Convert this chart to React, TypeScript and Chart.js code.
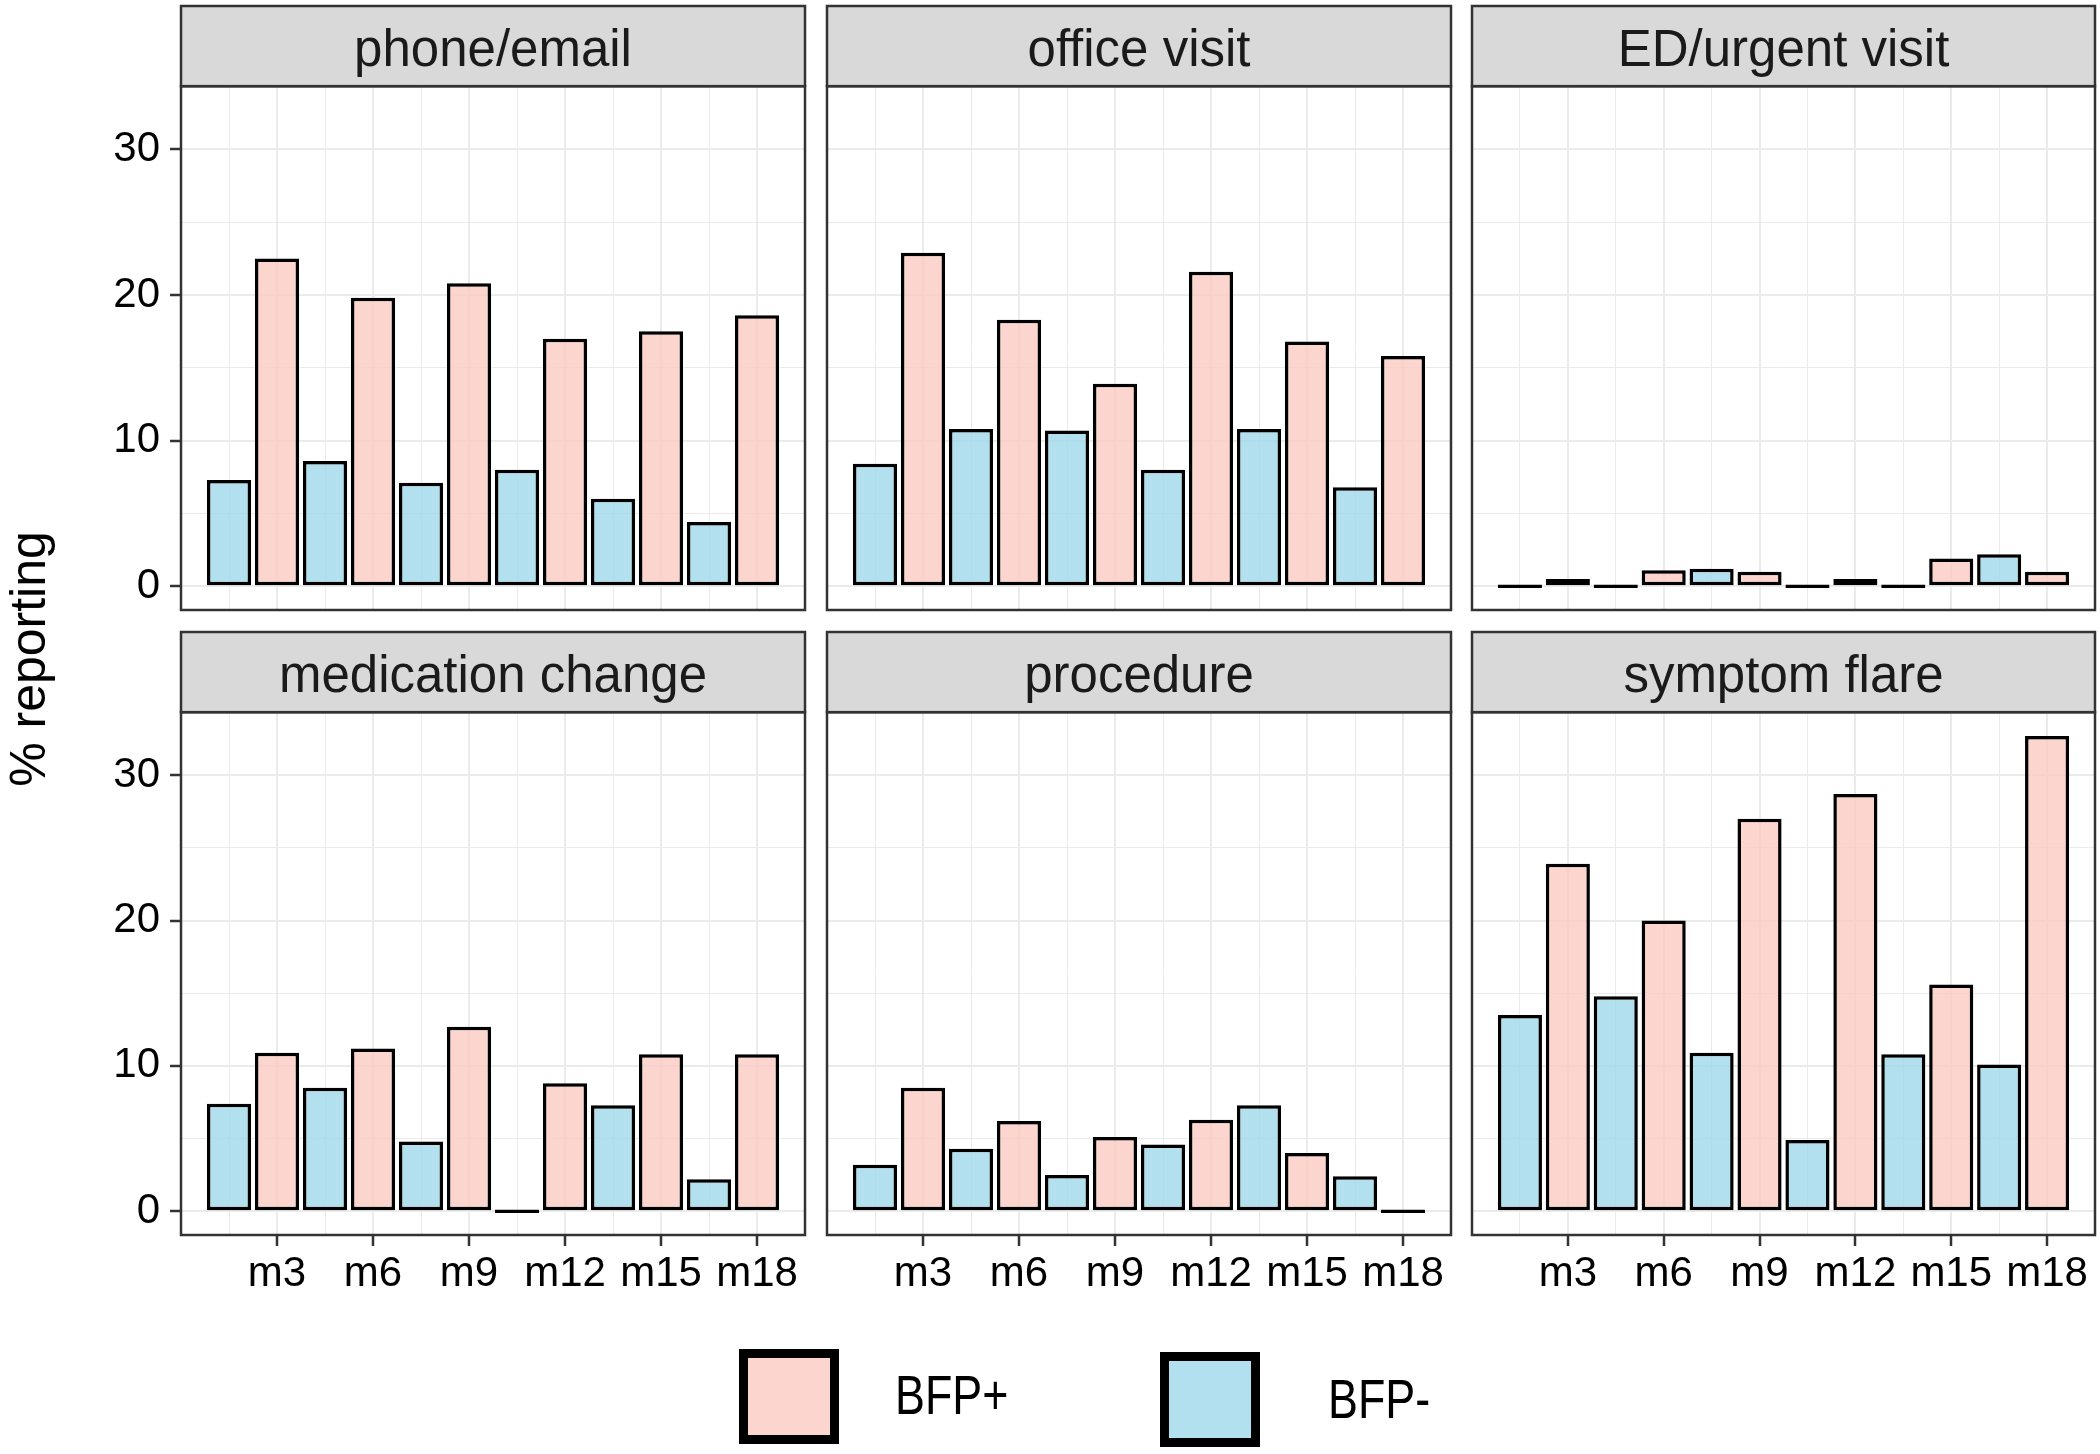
import React, { useEffect, useRef } from "react";
import { Chart, registerables } from "chart.js";

Chart.register(...registerables);

const FONT = "'Liberation Sans', Arial, Helvetica, sans-serif";

// ---------- data ----------
const periods = ["m3", "m6", "m9", "m12", "m15", "m18"];
const seriesNames = ["BFP+", "BFP-"];
const panelTitles = [
  "phone/email",
  "office visit",
  "ED/urgent visit",
  "medication change",
  "procedure",
  "symptom flare",
];

const phoneEmailPlus = [22.5, 19.8, 20.8, 17.0, 17.5, 18.6];
const phoneEmailMinus = [7.3, 8.6, 7.1, 8.0, 6.0, 4.4];

const officeVisitPlus = [22.9, 18.3, 13.9, 21.6, 16.8, 15.8];
const officeVisitMinus = [8.4, 10.8, 10.7, 8.0, 10.8, 6.8];

const edUrgentPlus = [0.5, 1.1, 1.0, 0.5, 1.9, 1.0];
const edUrgentMinus = [0, 0, 1.2, 0, 0, 2.2];

const medicationPlus = [10.9, 11.2, 12.7, 8.8, 10.8, 10.8];
const medicationMinus = [7.4, 8.5, 4.8, 0, 7.3, 2.2];

const procedurePlus = [8.5, 6.2, 5.1, 6.3, 4.0, 0];
const procedureMinus = [3.2, 4.3, 2.5, 4.6, 7.3, 2.4];

const symptomPlus = [23.9, 20.0, 27.0, 28.7, 15.6, 32.7];
const symptomMinus = [13.5, 14.8, 10.9, 4.9, 10.8, 10.1];

const yTickValues = [0, 5, 10, 15, 20, 25, 30];
const yLabelledTicks = [0, 10, 20, 30];
const yAxisTitle = "% reporting";

// ---------- styles ----------
const PINK_FILL = "rgba(252, 202, 195, 0.8)";
const BLUE_FILL = "rgba(160, 216, 235, 0.8)";
const PINK_KEY = "rgb(253, 213, 207)";
const BLUE_KEY = "rgb(179, 224, 239)";
const GRID = "#EBEBEB";
const FRAME = "#333333";

const plusSeries = [phoneEmailPlus, officeVisitPlus, edUrgentPlus, medicationPlus, procedurePlus, symptomPlus];
const minusSeries = [phoneEmailMinus, officeVisitMinus, edUrgentMinus, medicationMinus, procedureMinus, symptomMinus];

const allValues = [...plusSeries.flat(), ...minusSeries.flat()];
const dataMax = Math.max(...allValues);
const Y_MAX = dataMax * 1.05;
const Y_MIN = -dataMax * 0.05;
const X_MIN = 0;
const X_MAX = periods.length * 2 + 1;
const xGridValues = Array.from({ length: periods.length * 2 }, (_, i) => i + 1);

const COLS = [
  { left: 0, width: 815, padL: 0, padR: 10, yW: 181 },
  { left: 817, width: 644, padL: 10, padR: 10, yW: 0 },
  { left: 1462, width: 638, padL: 10, padR: 5, yW: 0 },
];
const ROWS = [
  { top: 0, height: 620, padT: 6, padB: 10, xH: 0 },
  { top: 622, height: 690, padT: 10, padB: 0, xH: 77 },
];

const facetPlugin = {
  id: "facetStrip",
  beforeDraw(chart: any) {
    const { ctx, chartArea: a } = chart;
    const tb = chart.titleBlock;
    if (!a || !tb) return;
    ctx.save();
    ctx.fillStyle = "#D9D9D9";
    ctx.fillRect(a.left, tb.top, a.right - a.left, a.top - tb.top);
    ctx.restore();
  },
  afterDraw(chart: any) {
    const { ctx, chartArea: a } = chart;
    const tb = chart.titleBlock;
    if (!a || !tb) return;
    ctx.save();
    ctx.strokeStyle = FRAME;
    ctx.lineWidth = 2.5;
    ctx.strokeRect(a.left, tb.top, a.right - a.left, a.top - tb.top);
    ctx.strokeRect(a.left, a.top, a.right - a.left, a.bottom - a.top);
    ctx.restore();
  },
};

type PanelProps = { title: string; plus: number[]; minus: number[]; col: number; row: number };

function Panel({ title, plus, minus, col, row }: PanelProps) {
  const ref = useRef<HTMLCanvasElement>(null);
  const c = COLS[col];
  const r = ROWS[row];
  const showY = col === 0;
  const showX = row === 1;

  useEffect(() => {
    if (!ref.current) return;
    const barCommon = {
      borderColor: "#000000",
      borderWidth: 3.5,
      borderSkipped: false,
      minBarLength: 3.5,
      barPercentage: 0.92,
      categoryPercentage: 1,
      grouped: false,
    };
    const chart = new Chart(ref.current, {
      type: "bar",
      data: {
        datasets: [
          {
            ...barCommon,
            label: seriesNames[1],
            backgroundColor: BLUE_FILL,
            data: minus.map((v, i) => ({ x: 2 * i + 1, y: v })),
          },
          {
            ...barCommon,
            label: seriesNames[0],
            backgroundColor: PINK_FILL,
            data: plus.map((v, i) => ({ x: 2 * i + 2, y: v })),
          },
        ] as any,
      },
      options: {
        animation: false,
        responsive: true,
        maintainAspectRatio: false,
        devicePixelRatio: 1,
        layout: { padding: { left: c.padL, right: c.padR, top: r.padT, bottom: r.padB } },
        plugins: {
          legend: { display: false },
          tooltip: { enabled: false },
          title: {
            display: true,
            text: title,
            fullSize: false,
            color: "#1A1A1A",
            font: { family: FONT, size: 51, weight: "normal", lineHeight: 1.2 },
            padding: { top: 15, bottom: 4 },
          },
        },
        scales: {
          x: {
            type: "linear",
            min: X_MIN,
            max: X_MAX,
            offset: false,
            bounds: "data",
            afterBuildTicks: (s: any) => {
              s.ticks = xGridValues.map((v) => ({ value: v }));
            },
            afterFit: (s: any) => {
              s.height = showX ? r.xH : 0;
              s.paddingLeft = 0;
              s.paddingRight = 0;
            },
            border: { display: false },
            grid: {
              offset: false,
              color: GRID,
              lineWidth: (ctx: any) => (ctx.tick && ctx.tick.value % 2 === 0 ? 2 : 1),
              drawTicks: showX,
              tickLength: 11,
              tickWidth: 2.5,
              tickColor: (ctx: any) => (ctx.tick && ctx.tick.value % 2 === 0 ? FRAME : "rgba(0,0,0,0)"),
            },
            ticks: {
              display: showX,
              autoSkip: false,
              maxRotation: 0,
              minRotation: 0,
              padding: 3,
              color: "#000000",
              font: { family: FONT, size: 42 },
              callback: (v: any) => {
                const n = Number(v);
                return n % 2 === 0 ? periods[n / 2 - 1] ?? "" : "";
              },
            },
          },
          y: {
            type: "linear",
            min: Y_MIN,
            max: Y_MAX,
            bounds: "data",
            afterBuildTicks: (s: any) => {
              s.ticks = yTickValues.map((v) => ({ value: v }));
            },
            afterFit: (s: any) => {
              s.width = c.yW;
              s.paddingTop = 0;
              s.paddingBottom = 0;
            },
            border: { display: false },
            grid: {
              color: GRID,
              lineWidth: (ctx: any) => (ctx.tick && yLabelledTicks.includes(ctx.tick.value) ? 2 : 1),
              drawTicks: showY,
              tickLength: 11,
              tickWidth: 2.5,
              tickColor: (ctx: any) =>
                ctx.tick && yLabelledTicks.includes(ctx.tick.value) ? FRAME : "rgba(0,0,0,0)",
            },
            ticks: {
              display: showY,
              autoSkip: false,
              padding: 10,
              color: "#000000",
              font: { family: FONT, size: 42 },
              callback: (v: any) => (yLabelledTicks.includes(Number(v)) ? String(v) : ""),
            },
          },
        },
      } as any,
      plugins: [facetPlugin],
    });
    return () => chart.destroy();
  }, [title, plus, minus, col, row]);

  return (
    <div style={{ position: "absolute", left: c.left, top: r.top, width: c.width, height: r.height }}>
      <canvas ref={ref} />
    </div>
  );
}

function LegendKey({ left, top, fill }: { left: number; top: number; fill: string }) {
  return (
    <div
      style={{
        position: "absolute",
        left,
        top,
        width: 100,
        height: 95,
        boxSizing: "border-box",
        border: "9px solid #000",
        background: fill,
      }}
    />
  );
}

function LegendLabel({ left, top, text }: { left: number; top: number; text: string }) {
  return (
    <div
      style={{
        position: "absolute",
        left,
        top,
        fontFamily: FONT,
        fontSize: 56,
        lineHeight: "56px",
        color: "#000",
        whiteSpace: "nowrap",
        transform: "scaleX(0.8)",
        transformOrigin: "left center",
      }}
    >
      {text}
    </div>
  );
}

export default function App() {
  return (
    <div
      style={{
        position: "absolute",
        left: 0,
        top: 0,
        width: 2100,
        height: 1454,
        background: "#ffffff",
        overflow: "hidden",
      }}
    >
      {panelTitles.map((t, i) => (
        <Panel
          key={t}
          title={t}
          plus={plusSeries[i]}
          minus={minusSeries[i]}
          col={i % 3}
          row={Math.floor(i / 3)}
        />
      ))}
      <div
        style={{
          position: "absolute",
          left: 28 - 200,
          top: 659 - 30,
          width: 400,
          height: 60,
          lineHeight: "60px",
          textAlign: "center",
          fontFamily: FONT,
          fontSize: 50,
          color: "#000",
          transform: "rotate(-90deg)",
          transformOrigin: "center center",
          whiteSpace: "nowrap",
        }}
      >
        {yAxisTitle}
      </div>
      <LegendKey left={739} top={1349} fill={PINK_KEY} />
      <LegendLabel left={895} top={1367} text={seriesNames[0]} />
      <LegendKey left={1160} top={1352} fill={BLUE_KEY} />
      <LegendLabel left={1328} top={1371} text={seriesNames[1]} />
    </div>
  );
}
